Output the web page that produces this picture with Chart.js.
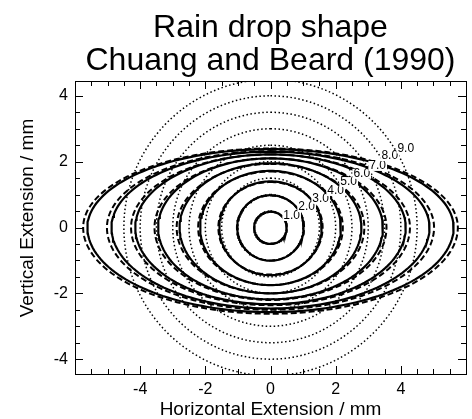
<!DOCTYPE html>
<html>
<head>
<meta charset="utf-8">
<script src="https://cdn.jsdelivr.net/npm/chart.js@4.4.0/dist/chart.umd.min.js"></script>
<style>
html, body { margin: 0; padding: 0; background: #fff; }
#wrap { width: 472px; height: 419px; }
</style>
</head>
<body>
<div id="wrap"><canvas id="c" width="472" height="419"></canvas></div>
<script>
// Drop diameters (mm) and the extents (mm)
var DIAMETERS = [1, 2, 3, 4, 5, 6, 7, 8, 9];
var DROP_LABELS = ['1.0', '2.0', '3.0', '4.0', '5.0', '6.0', '7.0', '8.0', '9.0'];

// solid: Chuang and Beard shape
var SOLID_HALF_WIDTH = [0.50, 1.02, 1.57, 2.16, 2.79, 3.45, 4.15, 4.88, 5.62];
var SOLID_TOP = [0.48, 0.98, 1.40, 1.72, 1.95, 2.10, 2.22, 2.30, 2.38];
var SOLID_BOTTOM = [0.50, 1.01, 1.45, 1.75, 2.00, 2.18, 2.33, 2.46, 2.57];

// dashed: equivalent spheroid
var DASHED_HALF_WIDTH = [0.50, 1.03, 1.60, 2.22, 2.88, 3.56, 4.28, 5.02, 5.75];
var DASHED_TOP = [0.48, 0.97, 1.38, 1.70, 1.93, 2.10, 2.22, 2.32, 2.40];
var DASHED_BOTTOM = [0.49, 1.00, 1.43, 1.75, 2.00, 2.20, 2.36, 2.50, 2.62];

// dotted: sphere of equal volume
var SPHERE_RADIUS = [0.5, 1.0, 1.5, 2.0, 2.5, 3.0, 3.5, 4.0, 4.5];

// where each diameter label sits (mm)
var LABEL_X = [0.65, 1.11, 1.54, 2.00, 2.40, 2.80, 3.29, 3.66, 4.15];
var LABEL_Y = [0.35, 0.62, 0.87, 1.11, 1.38, 1.63, 1.87, 2.17, 2.40];

var X_MIN = -6, X_MAX = 6;
var Y_MIN = -4.45, Y_MAX = 4.45;
var X_TICKS = [-4, -2, 0, 2, 4];
var Y_TICKS = [-4, -2, 0, 2, 4];
var X_MINOR = [-5.5, -5, -4.5, -3.5, -3, -2.5, -1.5, -1, -0.5, 0.5, 1, 1.5, 2.5, 3, 3.5, 4.5, 5, 5.5];
var Y_MINOR = [-4, -3.5, -3, -2.5, -1.5, -1, -0.5, 0.5, 1, 1.5, 2.5, 3, 3.5];

var TITLE_LINES = ['Rain drop shape', 'Chuang and Beard (1990)'];
var X_TITLE = 'Horizontal Extension / mm';
var Y_TITLE = 'Vertical Extension / mm';

var FONT = '"Liberation Sans", Arial, Helvetica, sans-serif';
var STEPS = 180;

// closed outline through the four read extents
function outline(halfW, top, bottom) {
    var pts = [];
    for (var i = 0; i <= STEPS; i++) {
        var t = (i / STEPS) * Math.PI * 2;
        var c = Math.cos(t);
        pts.push({ x: halfW * Math.sin(t), y: (c >= 0 ? top : bottom) * c });
    }
    return pts;
}

function curve(points, dash, width) {
    return {
        data: points,
        showLine: true,
        borderColor: '#000',
        borderWidth: width,
        borderDash: dash,
        pointRadius: 0,
        fill: false,
        tension: 0
    };
}

var datasets = [];
for (var i = 0; i < DIAMETERS.length; i++) {
    datasets.push(curve(outline(SPHERE_RADIUS[i], SPHERE_RADIUS[i], SPHERE_RADIUS[i]), [1.5, 2.5], 1.5));
}
for (var j = 0; j < DIAMETERS.length; j++) {
    datasets.push(curve(outline(DASHED_HALF_WIDTH[j], DASHED_TOP[j], DASHED_BOTTOM[j]), [6, 3], 2));
}
for (var k = 0; k < DIAMETERS.length; k++) {
    datasets.push(curve(outline(SOLID_HALF_WIDTH[k], SOLID_TOP[k], SOLID_BOTTOM[k]), [], 2.2));
}

var frameAndText = {
    id: 'frameAndText',
    afterDatasetsDraw: function (chart) {
        var ctx = chart.ctx;
        var a = chart.chartArea;
        var xs = chart.scales.x;
        var ys = chart.scales.y;
        ctx.save();

        // diameter labels
        ctx.font = '12px ' + FONT;
        ctx.textAlign = 'center';
        ctx.textBaseline = 'middle';
        for (var i = 0; i < DROP_LABELS.length; i++) {
            var px = xs.getPixelForValue(LABEL_X[i]);
            var py = ys.getPixelForValue(LABEL_Y[i]);
            var w = ctx.measureText(DROP_LABELS[i]).width;
            ctx.fillStyle = '#fff';
            ctx.fillRect(px - w / 2 - 1, py - 5, w + 2, 10);
            ctx.fillStyle = '#000';
            ctx.fillText(DROP_LABELS[i], px, py);
        }

        // frame
        ctx.strokeStyle = '#000';
        ctx.lineWidth = 1;
        ctx.strokeRect(Math.round(a.left) + 0.5, Math.round(a.top) + 0.5,
            Math.round(a.right - a.left), Math.round(a.bottom - a.top));

        function xTick(v, len) {
            var p = Math.round(xs.getPixelForValue(v)) + 0.5;
            ctx.beginPath();
            ctx.moveTo(p, a.bottom); ctx.lineTo(p, a.bottom - len);
            ctx.moveTo(p, a.top); ctx.lineTo(p, a.top + len);
            ctx.stroke();
        }
        function yTick(v, len) {
            var p = Math.round(ys.getPixelForValue(v)) + 0.5;
            ctx.beginPath();
            ctx.moveTo(a.left, p); ctx.lineTo(a.left + len, p);
            ctx.moveTo(a.right, p); ctx.lineTo(a.right - len, p);
            ctx.stroke();
        }
        X_TICKS.forEach(function (v) { xTick(v, 8); });
        X_MINOR.forEach(function (v) { xTick(v, 5); });
        Y_TICKS.forEach(function (v) { yTick(v, 8); });
        Y_MINOR.forEach(function (v) { yTick(v, 5); });

        // titles
        ctx.fillStyle = '#000';
        ctx.textAlign = 'center';
        ctx.textBaseline = 'alphabetic';
        ctx.font = '32px ' + FONT;
        var cx = (a.left + a.right) / 2;
        ctx.fillText(TITLE_LINES[0], cx, 37);
        ctx.fillText(TITLE_LINES[1], cx, 70);

        ctx.font = '19px ' + FONT;
        ctx.fillText(X_TITLE, cx, 415);
        ctx.translate(33, 218);
        ctx.rotate(-Math.PI / 2);
        ctx.fillText(Y_TITLE, 0, 0);
        ctx.restore();
    }
};

new Chart(document.getElementById('c'), {
    type: 'scatter',
    data: { datasets: datasets },
    options: {
        responsive: false,
        animation: false,
        layout: { padding: { top: 81, right: 6, left: 0, bottom: 0 } },
        plugins: {
            legend: { display: false },
            tooltip: { enabled: false },
            title: { display: false }
        },
        scales: {
            x: {
                type: 'linear',
                min: X_MIN,
                max: X_MAX,
                afterBuildTicks: function (scale) {
                    scale.ticks = X_TICKS.map(function (v) { return { value: v }; });
                },
                afterFit: function (scale) { scale.height = 45; },
                grid: { display: false, drawTicks: false },
                border: { display: false },
                ticks: { color: '#000', padding: 6, maxRotation: 0, font: { family: FONT, size: 16 } }
            },
            y: {
                type: 'linear',
                min: Y_MIN,
                max: Y_MAX,
                afterBuildTicks: function (scale) {
                    scale.ticks = Y_TICKS.map(function (v) { return { value: v }; });
                },
                afterFit: function (scale) { scale.width = 75; },
                grid: { display: false, drawTicks: false },
                border: { display: false },
                ticks: { color: '#000', padding: 7, font: { family: FONT, size: 16 } }
            }
        }
    },
    plugins: [frameAndText]
});
</script>
</body>
</html>
